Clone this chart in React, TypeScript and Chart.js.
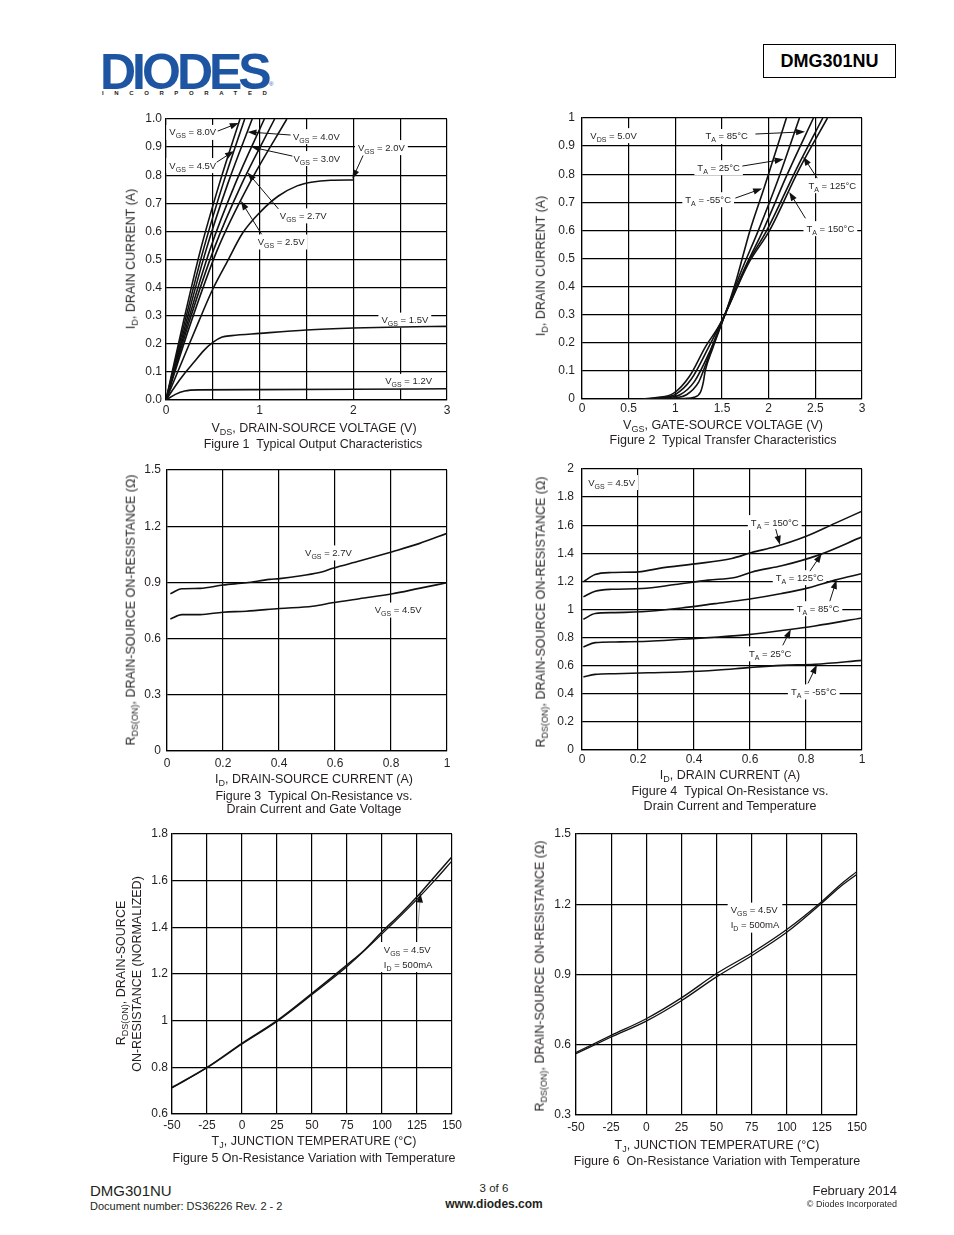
import React, { useEffect, useRef } from "react";
import { Chart, registerables } from "chart.js";
Chart.register(...registerables);

const FONT = '"Liberation Sans", Arial, Helvetica, sans-serif';
const INK = "#231f20";

// ---------------- Figure 1: Typical Output Characteristics ----------------
const F1_X_TICKS = [0, 0.5, 1, 1.5, 2, 2.5, 3];
const F1_X_LABELS = ["0", "", "1", "", "2", "", "3"];
const F1_Y_TICKS = [0, 0.1, 0.2, 0.3, 0.4, 0.5, 0.6, 0.7, 0.8, 0.9, 1.0];
const F1_Y_LABELS = ["0.0", "0.1", "0.2", "0.3", "0.4", "0.5", "0.6", "0.7", "0.8", "0.9", "1.0"];
const F1_VGS_8_0 = [[0, 0], [0.18, 0.27], [0.37, 0.536], [0.57, 0.77], [0.79, 1.0]];
const F1_VGS_4_5 = [[0, 0], [0.195, 0.27], [0.4, 0.536], [0.61, 0.77], [0.84, 1.0]];
const F1_VGS_4_0 = [[0, 0], [0.21, 0.27], [0.43, 0.536], [0.66, 0.77], [0.92, 1.0]];
const F1_VGS_3_0 = [[0, 0], [0.225, 0.27], [0.47, 0.536], [0.74, 0.77], [1.05, 1.0]];
const F1_VGS_2_7 = [[0, 0], [0.24, 0.27], [0.51, 0.536], [0.81, 0.77], [1.16, 1.0]];
const F1_VGS_2_5 = [[0, 0], [0.26, 0.27], [0.55, 0.536], [0.89, 0.77], [1.29, 1.0]];
const F1_VGS_2_0 = [[0, 0], [0.2, 0.16], [0.35, 0.28], [0.5, 0.395], [0.65, 0.49], [0.82, 0.595], [1.0, 0.667], [1.2, 0.726], [1.4, 0.762], [1.55, 0.775], [1.76, 0.782], [2.0, 0.783]];
const F1_VGS_1_5 = [[0, 0], [0.1, 0.05], [0.2, 0.095], [0.3, 0.135], [0.4, 0.175], [0.5, 0.205], [0.6, 0.224], [0.7, 0.229], [1.0, 0.237], [1.5, 0.249], [2.0, 0.256], [2.5, 0.26], [3.0, 0.262]];
const F1_VGS_1_2 = [[0, 0], [0.1, 0.02], [0.2, 0.032], [0.35, 0.036], [1.0, 0.037], [2.0, 0.038], [3.0, 0.04]];

// ---------------- Figure 2: Typical Transfer Characteristics ----------------
const F2_X_TICKS = [0, 0.5, 1, 1.5, 2, 2.5, 3];
const F2_X_LABELS = ["0", "0.5", "1", "1.5", "2", "2.5", "3"];
const F2_Y_TICKS = [0, 0.1, 0.2, 0.3, 0.4, 0.5, 0.6, 0.7, 0.8, 0.9, 1.0];
const F2_Y_LABELS = ["0", "0.1", "0.2", "0.3", "0.4", "0.5", "0.6", "0.7", "0.8", "0.9", "1"];
const F2_TA_M55 = [[0.95, 0], [1.1, 0.002], [1.2, 0.006], [1.27, 0.025], [1.3, 0.06], [1.32, 0.1], [1.4, 0.18], [1.536, 0.304], [1.65, 0.42], [1.8, 0.6], [1.95, 0.75], [2.19, 1.0]];
const F2_TA_25 = [[0.85, 0], [1.0, 0.004], [1.12, 0.015], [1.25, 0.06], [1.3, 0.1], [1.4, 0.19], [1.536, 0.304], [1.7, 0.45], [1.89, 0.6], [2.1, 0.78], [2.33, 1.0]];
const F2_TA_85 = [[0.75, 0], [0.9, 0.004], [1.05, 0.015], [1.2, 0.06], [1.37, 0.17], [1.536, 0.304], [1.75, 0.47], [1.94, 0.6], [2.2, 0.8], [2.48, 1.0]];
const F2_TA_125 = [[0.7, 0], [0.85, 0.005], [1.0, 0.016], [1.17, 0.07], [1.35, 0.18], [1.536, 0.304], [1.77, 0.48], [1.98, 0.6], [2.3, 0.82], [2.58, 1.0]];
const F2_TA_150 = [[0.65, 0], [0.8, 0.005], [0.98, 0.02], [1.15, 0.08], [1.33, 0.19], [1.45, 0.25], [1.536, 0.304], [1.78, 0.48], [2.01, 0.6], [2.33, 0.82], [2.63, 1.0]];

// ---------------- Figure 3: On-Resistance vs Drain Current and Gate Voltage ----------------
const F3_X_TICKS = [0, 0.2, 0.4, 0.6, 0.8, 1];
const F3_X_LABELS = ["0", "0.2", "0.4", "0.6", "0.8", "1"];
const F3_Y_TICKS = [0, 0.3, 0.6, 0.9, 1.2, 1.5];
const F3_Y_LABELS = ["0", "0.3", "0.6", "0.9", "1.2", "1.5"];
const F3_VGS_2_7 = [[0.012, 0.839], [0.053, 0.866], [0.118, 0.868], [0.2, 0.886], [0.283, 0.898], [0.366, 0.916], [0.402, 0.92], [0.485, 0.937], [0.556, 0.957], [0.592, 0.975], [0.687, 1.014], [0.805, 1.064], [0.9, 1.107], [1.0, 1.162]];
const F3_VGS_4_5 = [[0.012, 0.705], [0.053, 0.728], [0.118, 0.728], [0.2, 0.741], [0.283, 0.746], [0.402, 0.761], [0.52, 0.773], [0.59, 0.791], [0.687, 0.813], [0.805, 0.839], [0.9, 0.868], [1.0, 0.898]];

// ---------------- Figure 4: On-Resistance vs Drain Current and Temperature ----------------
const F4_X_TICKS = [0, 0.2, 0.4, 0.6, 0.8, 1];
const F4_X_LABELS = ["0", "0.2", "0.4", "0.6", "0.8", "1"];
const F4_Y_TICKS = [0, 0.2, 0.4, 0.6, 0.8, 1, 1.2, 1.4, 1.6, 1.8, 2];
const F4_Y_LABELS = ["0", "0.2", "0.4", "0.6", "0.8", "1", "1.2", "1.4", "1.6", "1.8", "2"];
const F4_TA_150 = [[0.005, 1.197], [0.047, 1.249], [0.107, 1.263], [0.202, 1.268], [0.285, 1.296], [0.404, 1.325], [0.535, 1.363], [0.606, 1.406], [0.689, 1.446], [0.796, 1.517], [0.903, 1.613], [1.0, 1.7]];
const F4_TA_125 = [[0.005, 1.09], [0.047, 1.13], [0.107, 1.144], [0.214, 1.149], [0.333, 1.178], [0.451, 1.209], [0.546, 1.228], [0.618, 1.273], [0.713, 1.311], [0.844, 1.387], [1.0, 1.517]];
const F4_TA_85 = [[0.005, 0.93], [0.047, 0.971], [0.118, 0.978], [0.238, 0.988], [0.356, 1.011], [0.475, 1.042], [0.594, 1.073], [0.713, 1.114], [0.808, 1.154], [0.903, 1.209], [1.0, 1.256]];
const F4_TA_25 = [[0.005, 0.733], [0.047, 0.764], [0.118, 0.769], [0.238, 0.774], [0.356, 0.788], [0.487, 0.804], [0.594, 0.821], [0.713, 0.85], [0.832, 0.883], [1.0, 0.94]];
const F4_TA_M55 = [[0.005, 0.519], [0.047, 0.538], [0.118, 0.543], [0.238, 0.55], [0.356, 0.555], [0.487, 0.569], [0.594, 0.586], [0.713, 0.602], [0.832, 0.61], [1.0, 0.638]];

// ---------------- Figure 5: Normalized On-Resistance vs Temperature ----------------
const F5_X_TICKS = [-50, -25, 0, 25, 50, 75, 100, 125, 150];
const F5_X_LABELS = ["-50", "-25", "0", "25", "50", "75", "100", "125", "150"];
const F5_Y_TICKS = [0.6, 0.8, 1.0, 1.2, 1.4, 1.6, 1.8];
const F5_Y_LABELS = ["0.6", "0.8", "1", "1.2", "1.4", "1.6", "1.8"];
const F5_CURVE_A = [[-50, 0.714], [-25, 0.8], [0, 0.903], [25, 1.0], [50, 1.117], [75, 1.239], [87.5, 1.303], [100, 1.381], [112.5, 1.453], [125, 1.531], [137.5, 1.617], [150, 1.703]];
const F5_CURVE_B = [[-50, 0.712], [-25, 0.798], [0, 0.9], [25, 0.997], [50, 1.112], [75, 1.232], [100, 1.372], [125, 1.52], [137.5, 1.6], [150, 1.685]];

// ---------------- Figure 6: On-Resistance vs Temperature ----------------
const F6_X_TICKS = [-50, -25, 0, 25, 50, 75, 100, 125, 150];
const F6_X_LABELS = ["-50", "-25", "0", "25", "50", "75", "100", "125", "150"];
const F6_Y_TICKS = [0.3, 0.6, 0.9, 1.2, 1.5];
const F6_Y_LABELS = ["0.3", "0.6", "0.9", "1.2", "1.5"];
const F6_CURVE_A = [[-50, 0.567], [-25, 0.64], [0, 0.711], [25, 0.8], [50, 0.904], [75, 0.992], [100, 1.092], [125, 1.212], [137.5, 1.28], [150, 1.34]];
const F6_CURVE_B = [[-50, 0.562], [-25, 0.633], [0, 0.701], [25, 0.788], [50, 0.89], [75, 0.98], [100, 1.08], [125, 1.205], [137.5, 1.272], [150, 1.328]];

// ---------------- annotations (data coordinates) ----------------
type Ann = { lines: string[]; x: number; y: number; from?: number[]; to?: number[]; gray?: boolean };

const F1_ANNS: Ann[] = [
  { lines: ["V_{GS} = 8.0V"], x: 0.036, y: 0.954, from: [0.552, 0.957], to: [0.777, 0.986] },
  { lines: ["V_{GS} = 4.0V"], x: 1.355, y: 0.939, from: [1.33, 0.943], to: [0.87, 0.954] },
  { lines: ["V_{GS} = 4.5V"], x: 0.036, y: 0.836, from: [0.54, 0.846], to: [0.726, 0.886] },
  { lines: ["V_{GS} = 3.0V"], x: 1.36, y: 0.861, from: [1.35, 0.868], to: [0.915, 0.9] },
  { lines: ["V_{GS} = 2.0V"], x: 2.05, y: 0.9, from: [2.104, 0.87], to: [1.99, 0.787] },
  { lines: ["V_{GS} = 2.7V"], x: 1.215, y: 0.657, from: [1.2, 0.68], to: [0.87, 0.81] },
  { lines: ["V_{GS} = 2.5V"], x: 0.979, y: 0.564, from: [1.02, 0.59], to: [0.8, 0.708] },
  { lines: ["V_{GS} = 1.5V"], x: 2.3, y: 0.286 },
  { lines: ["V_{GS} = 1.2V"], x: 2.34, y: 0.068 },
];
const F2_ANNS: Ann[] = [
  { lines: ["V_{DS} = 5.0V"], x: 0.089, y: 0.939 },
  { lines: ["T_{A} = 85°C"], x: 1.322, y: 0.936, from: [1.858, 0.943], to: [2.39, 0.951] },
  { lines: ["T_{A} = 25°C"], x: 1.236, y: 0.825, from: [1.718, 0.829], to: [2.16, 0.853] },
  { lines: ["T_{A} = -55°C"], x: 1.107, y: 0.711, from: [1.643, 0.715], to: [1.93, 0.749] },
  { lines: ["T_{A} = 125°C"], x: 2.426, y: 0.761, from: [2.52, 0.786], to: [2.37, 0.862] },
  { lines: ["T_{A} = 150°C"], x: 2.405, y: 0.608, from: [2.394, 0.643], to: [2.22, 0.737] },
];
const F3_ANNS: Ann[] = [
  { lines: ["V_{GS} = 2.7V"], x: 0.493, y: 1.06 },
  { lines: ["V_{GS} = 4.5V"], x: 0.742, y: 0.755 },
];
const F4_ANNS: Ann[] = [
  { lines: ["V_{GS} = 4.5V"], x: 0.022, y: 1.907 },
  { lines: ["T_{A} = 150°C"], x: 0.603, y: 1.622, from: [0.692, 1.572], to: [0.707, 1.46] },
  { lines: ["T_{A} = 125°C"], x: 0.692, y: 1.23, from: [0.814, 1.273], to: [0.856, 1.397] },
  { lines: ["T_{A} = 85°C"], x: 0.767, y: 1.009, from: [0.885, 1.059], to: [0.909, 1.21] },
  { lines: ["T_{A} = 25°C"], x: 0.596, y: 0.688, from: [0.717, 0.745], to: [0.746, 0.859] },
  { lines: ["T_{A} = -55°C"], x: 0.746, y: 0.417, from: [0.807, 0.474], to: [0.839, 0.607] },
];
const F5_ANNS: Ann[] = [
  { lines: ["V_{GS} = 4.5V", "I_{D} = 500mA"], x: 101.3, y: 1.307, from: [125.5, 1.389], to: [127.5, 1.545], gray: true },
];
const F6_ANNS: Ann[] = [
  { lines: ["V_{GS} = 4.5V", "I_{D} = 500mA"], x: 60.1, y: 1.177 },
];

// ---------------- helpers ----------------
function parseRich(s: string) {
  const parts = s.split(/_\{([^}]*)\}/);
  return parts.map((t, i) => ({ t, sub: i % 2 === 1 })).filter((p) => p.t.length > 0);
}

const ANN_SIZE = 9.5;
const SUB_SIZE = 7;
const ANN_LH = 15;

function annPlugin(anns: Ann[]) {
  const measure = (ctx: CanvasRenderingContext2D, line: string) => {
    let w = 0;
    for (const p of parseRich(line)) {
      ctx.font = `${p.sub ? SUB_SIZE : ANN_SIZE}px ${FONT}`;
      w += ctx.measureText(p.t).width;
    }
    return w;
  };
  return {
    id: "anns",
    beforeDatasetsDraw(chart: any) {
      const { ctx, scales } = chart;
      ctx.save();
      for (const a of anns) {
        const px = scales.x.getPixelForValue(a.x);
        const py = scales.y.getPixelForValue(a.y);
        let w = 0;
        for (const l of a.lines) w = Math.max(w, measure(ctx, l));
        ctx.fillStyle = "#fff";
        ctx.fillRect(px - 3, py - 7, w + 6, (a.lines.length - 1) * ANN_LH + 15);
      }
      ctx.restore();
    },
    afterDatasetsDraw(chart: any) {
      const { ctx, scales } = chart;
      ctx.save();
      for (const a of anns) {
        const px = scales.x.getPixelForValue(a.x);
        const py = scales.y.getPixelForValue(a.y);
        if (a.from && a.to) {
          const x1 = scales.x.getPixelForValue(a.from[0]);
          const y1 = scales.y.getPixelForValue(a.from[1]);
          const x2 = scales.x.getPixelForValue(a.to[0]);
          const y2 = scales.y.getPixelForValue(a.to[1]);
          const ang = Math.atan2(y2 - y1, x2 - x1);
          const hl = 9, hw = 3.2;
          ctx.strokeStyle = a.gray ? "#8a8a8a" : "#111";
          ctx.lineWidth = a.gray ? 0.8 : 1;
          ctx.beginPath();
          ctx.moveTo(x1, y1);
          ctx.lineTo(x2 - Math.cos(ang) * hl * 0.8, y2 - Math.sin(ang) * hl * 0.8);
          ctx.stroke();
          ctx.fillStyle = "#111";
          ctx.beginPath();
          ctx.moveTo(x2, y2);
          ctx.lineTo(x2 - Math.cos(ang) * hl - Math.sin(ang) * hw, y2 - Math.sin(ang) * hl + Math.cos(ang) * hw);
          ctx.lineTo(x2 - Math.cos(ang) * hl + Math.sin(ang) * hw, y2 - Math.sin(ang) * hl - Math.cos(ang) * hw);
          ctx.closePath();
          ctx.fill();
        }
        ctx.fillStyle = INK;
        ctx.textBaseline = "alphabetic";
        ctx.textAlign = "left";
        a.lines.forEach((line, li) => {
          let cx = px;
          const base = py + 3.5 + li * ANN_LH;
          for (const p of parseRich(line)) {
            ctx.font = `${p.sub ? SUB_SIZE : ANN_SIZE}px ${FONT}`;
            ctx.fillText(p.t, cx, p.sub ? base + 3 : base);
            cx += ctx.measureText(p.t).width;
          }
        });
      }
      ctx.restore();
    },
  };
}

type Series = { label: string; data: number[][]; width?: number };
type PanelProps = {
  box: number[]; // plot area: left, top, right, bottom (page px)
  xTicks: number[]; xLabels: string[]; yTicks: number[]; yLabels: string[];
  series: Series[]; anns: Ann[]; xPad: number; yPad: number;
};

const PAD_L = 46, PAD_R = 16, PAD_T = 10, PAD_B = 24;

function Panel(p: PanelProps) {
  const ref = useRef<HTMLCanvasElement | null>(null);
  const [l, t, r, b] = p.box;
  const W = r - l + PAD_L + PAD_R;
  const H = b - t + PAD_T + PAD_B;
  useEffect(() => {
    if (!ref.current) return;
    const tickFont = { size: 12, family: FONT };
    const chart = new Chart(ref.current, {
      type: "line",
      data: {
        datasets: p.series.map((s) => ({
          label: s.label,
          data: s.data.map(([x, y]) => ({ x, y })),
          borderColor: "#111",
          borderWidth: s.width ?? 1.6,
          pointRadius: 0,
          fill: false,
          cubicInterpolationMode: "monotone" as const,
        })),
      },
      options: {
        responsive: false,
        devicePixelRatio: 1,
        animation: false,
        events: [],
        layout: { padding: { left: 0, top: PAD_T, right: PAD_R, bottom: 0 } },
        plugins: { legend: { display: false }, tooltip: { enabled: false }, title: { display: false } },
        scales: {
          x: {
            type: "linear",
            min: p.xTicks[0],
            max: p.xTicks[p.xTicks.length - 1],
            afterBuildTicks: (s: any) => { s.ticks = p.xTicks.map((v) => ({ value: v })); },
            afterFit: (s: any) => { s.height = PAD_B; s.paddingLeft = 0; s.paddingRight = 0; s.paddingTop = 0; s.paddingBottom = 0; },
            ticks: { callback: (_v: any, i: number) => p.xLabels[i], autoSkip: false, maxRotation: 0, minRotation: 0, padding: p.xPad, color: INK, font: tickFont },
            grid: { color: "#000", lineWidth: 1.2, drawTicks: false },
            border: { color: "#000", width: 1.2 },
          },
          y: {
            type: "linear",
            min: p.yTicks[0],
            max: p.yTicks[p.yTicks.length - 1],
            afterBuildTicks: (s: any) => { s.ticks = p.yTicks.map((v) => ({ value: v })); },
            afterFit: (s: any) => { s.width = PAD_L; s.paddingLeft = 0; s.paddingRight = 0; s.paddingTop = 0; s.paddingBottom = 0; },
            ticks: { callback: (_v: any, i: number) => p.yLabels[i], autoSkip: false, padding: p.yPad, color: INK, font: tickFont },
            grid: { color: "#000", lineWidth: 1.2, drawTicks: false },
            border: { color: "#000", width: 1.2 },
          },
        },
      } as any,
      plugins: [annPlugin(p.anns)],
    });
    return () => chart.destroy();
  }, []);
  return (
    <canvas
      ref={ref}
      width={W}
      height={H}
      style={{ position: "absolute", left: l - PAD_L, top: t - PAD_T, width: W, height: H }}
    />
  );
}

function Rich({ s }: { s: string }) {
  return (
    <>
      {parseRich(s).map((p, i) =>
        p.sub ? (
          <span key={i} style={{ fontSize: "0.72em", position: "relative", top: "0.35em" }}>{p.t}</span>
        ) : (
          <React.Fragment key={i}>{p.t}</React.Fragment>
        )
      )}
    </>
  );
}

function Txt({ x, y, s, size = 12.5, anchor = "center", rot = false, bold = false, color = INK, spacing = 0 }: any) {
  const tr = rot
    ? "translate(-50%,-50%) rotate(-90deg)"
    : anchor === "center" ? "translate(-50%,-50%)" : anchor === "left" ? "translate(0,-50%)" : "translate(-100%,-50%)";
  return (
    <div
      style={{
        position: "absolute", left: x, top: y, transform: tr, fontFamily: FONT, fontSize: size,
        fontWeight: bold ? 700 : 400, color, whiteSpace: "pre", lineHeight: 1, letterSpacing: spacing,
      }}
    >
      <Rich s={s} />
    </div>
  );
}

export default function App() {
  return (
    <div style={{ position: "absolute", left: 0, top: 0, width: 954, height: 1235, background: "#fff", overflow: "hidden" }}>
      {/* header */}
      <div style={{ position: "absolute", left: 100, top: 47, fontFamily: FONT, fontWeight: 900, fontSize: 50, color: "#1d55a3", letterSpacing: -4, lineHeight: 1 }}>DIODES</div>
      <div style={{ position: "absolute", left: 269, top: 81, fontFamily: FONT, fontSize: 6, color: "#1d55a3" }}>®</div>
      <div style={{ position: "absolute", left: 102, top: 90, fontFamily: FONT, fontWeight: 700, fontSize: 6, color: "#222", letterSpacing: 10.6, lineHeight: 1 }}>INCORPORATED</div>
      <div style={{ position: "absolute", left: 763, top: 44, width: 131, height: 32, border: "1.5px solid #000", display: "flex", alignItems: "center", justifyContent: "center", fontFamily: FONT, fontWeight: 700, fontSize: 18, color: "#000" }}>DMG301NU</div>

      {/* Figure 1 */}
      <Panel box={[166, 119, 447, 400]} xTicks={F1_X_TICKS} xLabels={F1_X_LABELS} yTicks={F1_Y_TICKS} yLabels={F1_Y_LABELS} xPad={3} yPad={4}
        series={[
          { label: "VGS = 8.0V", data: F1_VGS_8_0 }, { label: "VGS = 4.5V", data: F1_VGS_4_5 }, { label: "VGS = 4.0V", data: F1_VGS_4_0 },
          { label: "VGS = 3.0V", data: F1_VGS_3_0 }, { label: "VGS = 2.7V", data: F1_VGS_2_7 }, { label: "VGS = 2.5V", data: F1_VGS_2_5 },
          { label: "VGS = 2.0V", data: F1_VGS_2_0 }, { label: "VGS = 1.5V", data: F1_VGS_1_5 }, { label: "VGS = 1.2V", data: F1_VGS_1_2 },
        ]} anns={F1_ANNS} />
      <Txt x={131} y={259} rot s="I_{D}, DRAIN CURRENT (A)" />
      <Txt x={314} y={428} s="V_{DS}, DRAIN-SOURCE VOLTAGE (V)" />
      <Txt x={313} y={444} s="Figure 1  Typical Output Characteristics" />

      {/* Figure 2 */}
      <Panel box={[582, 118, 862, 399]} xTicks={F2_X_TICKS} xLabels={F2_X_LABELS} yTicks={F2_Y_TICKS} yLabels={F2_Y_LABELS} xPad={2} yPad={7}
        series={[
          { label: "TA = -55°C", data: F2_TA_M55 }, { label: "TA = 25°C", data: F2_TA_25 }, { label: "TA = 85°C", data: F2_TA_85 },
          { label: "TA = 125°C", data: F2_TA_125 }, { label: "TA = 150°C", data: F2_TA_150 },
        ]} anns={F2_ANNS} />
      <Txt x={541} y={266} rot s="I_{D}, DRAIN CURRENT (A)" />
      <Txt x={723} y={425} s="V_{GS}, GATE-SOURCE VOLTAGE (V)" />
      <Txt x={723} y={440} s="Figure 2  Typical Transfer Characteristics" />

      {/* Figure 3 */}
      <Panel box={[167, 470, 447, 751]} xTicks={F3_X_TICKS} xLabels={F3_X_LABELS} yTicks={F3_Y_TICKS} yLabels={F3_Y_LABELS} xPad={5} yPad={6}
        series={[{ label: "VGS = 2.7V", data: F3_VGS_2_7 }, { label: "VGS = 4.5V", data: F3_VGS_4_5 }]} anns={F3_ANNS} />
      <Txt x={131} y={610} rot s="R_{DS(ON)}, DRAIN-SOURCE ON-RESISTANCE (Ω)" />
      <Txt x={314} y={779} s="I_{D}, DRAIN-SOURCE CURRENT (A)" />
      <Txt x={314} y={796} s="Figure 3  Typical On-Resistance vs." />
      <Txt x={314} y={809} s="Drain Current and Gate Voltage" />

      {/* Figure 4 */}
      <Panel box={[582, 469, 862, 750]} xTicks={F4_X_TICKS} xLabels={F4_X_LABELS} yTicks={F4_Y_TICKS} yLabels={F4_Y_LABELS} xPad={2} yPad={8}
        series={[
          { label: "TA = 150°C", data: F4_TA_150 }, { label: "TA = 125°C", data: F4_TA_125 }, { label: "TA = 85°C", data: F4_TA_85 },
          { label: "TA = 25°C", data: F4_TA_25 }, { label: "TA = -55°C", data: F4_TA_M55 },
        ]} anns={F4_ANNS} />
      <Txt x={541} y={612} rot s="R_{DS(ON)}, DRAIN-SOURCE ON-RESISTANCE (Ω)" />
      <Txt x={730} y={775} s="I_{D}, DRAIN CURRENT (A)" />
      <Txt x={730} y={791} s="Figure 4  Typical On-Resistance vs." />
      <Txt x={730} y={806} s="Drain Current and Temperature" />

      {/* Figure 5 */}
      <Panel box={[172, 834, 452, 1114]} xTicks={F5_X_TICKS} xLabels={F5_X_LABELS} yTicks={F5_Y_TICKS} yLabels={F5_Y_LABELS} xPad={4} yPad={4}
        series={[{ label: "RDS(ON) normalized", data: F5_CURVE_A, width: 1.5 }, { label: "RDS(ON) normalized (2)", data: F5_CURVE_B, width: 1.3 }]} anns={F5_ANNS} />
      <Txt x={121} y={973} rot s="R_{DS(ON)}, DRAIN-SOURCE" />
      <Txt x={137} y={974} rot s="ON-RESISTANCE (NORMALIZED)" />
      <Txt x={314} y={1141} s="T_{J}, JUNCTION TEMPERATURE (°C)" />
      <Txt x={314} y={1158} s="Figure 5 On-Resistance Variation with Temperature" />

      {/* Figure 6 */}
      <Panel box={[576, 834, 857, 1115]} xTicks={F6_X_TICKS} xLabels={F6_X_LABELS} yTicks={F6_Y_TICKS} yLabels={F6_Y_LABELS} xPad={5} yPad={5}
        series={[{ label: "RDS(ON)", data: F6_CURVE_A, width: 1.3 }, { label: "RDS(ON) (2)", data: F6_CURVE_B, width: 1.3 }]} anns={F6_ANNS} />
      <Txt x={540} y={976} rot s="R_{DS(ON)}, DRAIN-SOURCE ON-RESISTANCE (Ω)" />
      <Txt x={717} y={1145} s="T_{J}, JUNCTION TEMPERATURE (°C)" />
      <Txt x={717} y={1161} s="Figure 6  On-Resistance Variation with Temperature" />

      {/* footer */}
      <Txt x={90} y={1190} anchor="left" size={15} s="DMG301NU" />
      <Txt x={90} y={1206} anchor="left" size={11} s="Document number: DS36226 Rev. 2 - 2" />
      <Txt x={494} y={1189} size={11.5} s="3 of 6" />
      <Txt x={494} y={1204} size={12} bold s="www.diodes.com" />
      <Txt x={897} y={1190} anchor="right" size={13} s="February 2014" />
      <Txt x={897} y={1204} anchor="right" size={9} s="© Diodes Incorporated" />
    </div>
  );
}
